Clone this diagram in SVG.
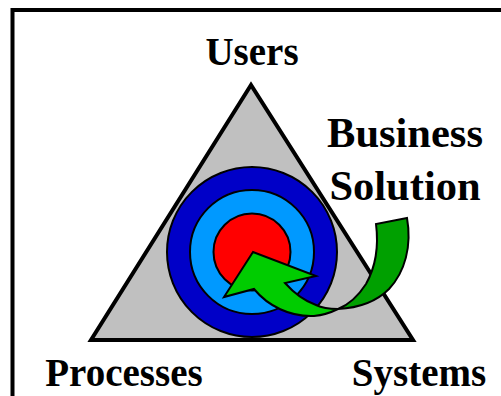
<svg xmlns="http://www.w3.org/2000/svg" width="501" height="396" viewBox="0 0 501 396">
<style>
text{font-family:"Liberation Serif","Times New Roman",serif;font-weight:bold;font-size:39px;fill:#000}
.big{font-size:42.500px}
.o{stroke:#000;stroke-width:2;stroke-linejoin:miter}
</style>
<rect width="501" height="396" fill="#fff"/>
<path id="frame" d="M12.5 396V10H501" fill="none" stroke="#000" stroke-width="4"/>
<g id="triangle"><path d="M251 85L91 340H413Z" fill="#c0c0c0" stroke="#000" stroke-width="4" stroke-linejoin="miter"/></g>
<g id="target">
<circle class="o" cx="252" cy="252" r="85" fill="#0000c8"/>
<circle class="o" cx="252" cy="252" r="62" fill="#0099ff"/>
<circle class="o" cx="252" cy="252" r="38.500" fill="#ff0000"/>
</g>
<g id="arrow">
<path class="o" d="M407 218L376 224C379 248 375 268 366 284C357 298 348 305 338 309C358 308 376 302 389 289C405 272 412 246 407 218Z" fill="#00a000"/>
<path class="o" d="M253 252L224 297L254 289C268 306 290 317 314 316C324 315 332 312 338 309C328 309 322 308 316 305C302 300 293 292 285 283L316 276Z" fill="#00cc00"/>
</g>
<g id="labels">
<text x="252" y="65" text-anchor="middle">Users</text>
<text class="big" x="405" y="147" text-anchor="middle">Business</text>
<text class="big" x="405" y="200" text-anchor="middle">Solution</text>
<text x="124" y="386" text-anchor="middle">Processes</text>
<text x="419" y="386" text-anchor="middle">Systems</text>
</g>
</svg>
